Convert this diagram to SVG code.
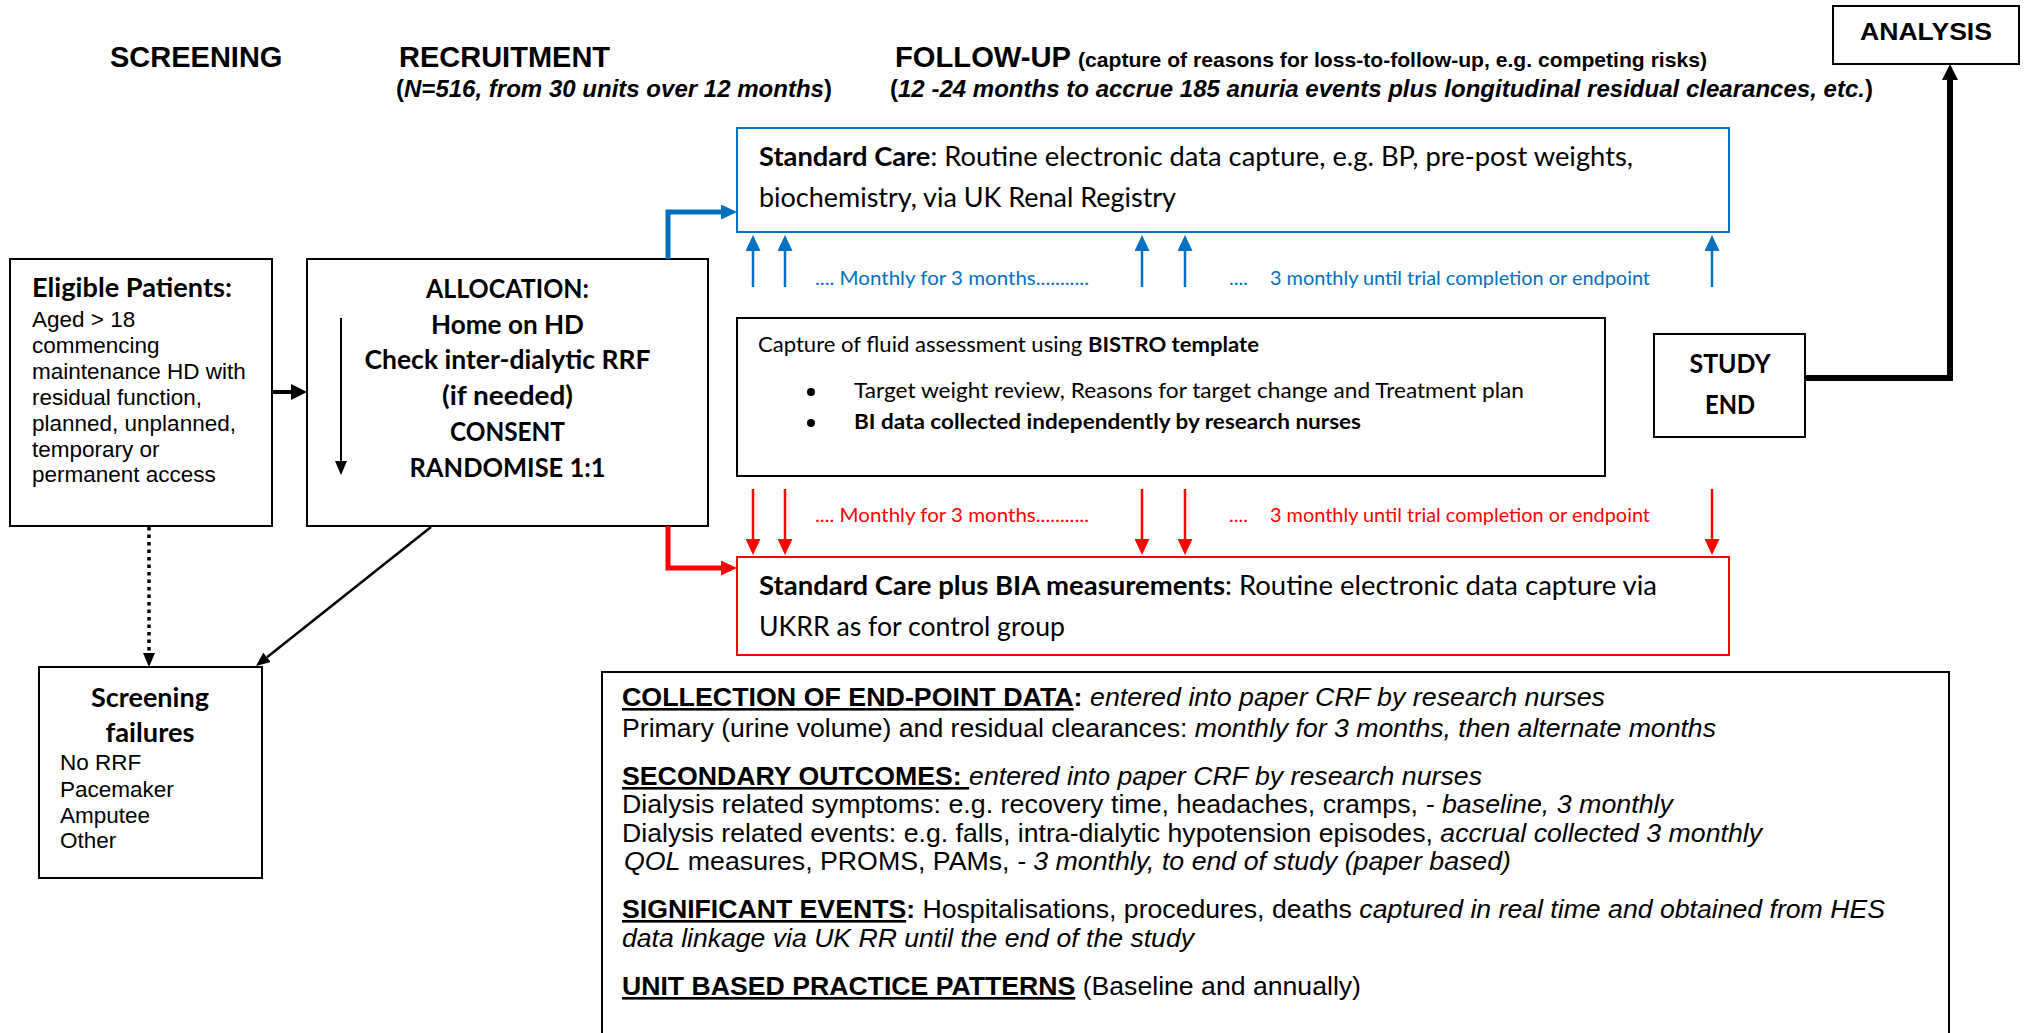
<svg xmlns="http://www.w3.org/2000/svg" width="2029" height="1033" viewBox="0 0 2029 1033">
<style>
.a{font-family:"Liberation Sans",Arial,sans-serif}
.c{font-family:Lato,"Liberation Sans",sans-serif}
.box{fill:#fff;stroke:#000;stroke-width:2}
.hd{font-size:29px;font-weight:bold}
.sub{font-size:24px;font-weight:bold}
.cb{font-size:26px;font-weight:bold}
.body{font-size:22.5px}
.bt{font-size:26px}
.b{font-weight:bold}
.i{font-style:italic}
.u{text-decoration:underline}
.mb{font-size:19px;fill:#0070C0}
.mr{font-size:19px;fill:#FF0000}
.thinb{stroke:#0070C0;stroke-width:2.5;fill:none}
.thinr{stroke:#FF0000;stroke-width:2.5;fill:none}
</style>
<defs>
<marker id="hk" viewBox="0 0 16 16" refX="0" refY="8" markerWidth="16" markerHeight="16" markerUnits="userSpaceOnUse" orient="auto"><path d="M0,0L16,8L0,16z" fill="#000"/></marker>
<marker id="hs" viewBox="0 0 14 12" refX="0" refY="6" markerWidth="14" markerHeight="12" markerUnits="userSpaceOnUse" orient="auto"><path d="M0,0L14,6L0,12z" fill="#000"/></marker>
<marker id="hb" viewBox="0 0 16 15" refX="0" refY="7.5" markerWidth="16" markerHeight="15" markerUnits="userSpaceOnUse" orient="auto"><path d="M0,0L16,7.5L0,15z" fill="#0070C0"/></marker>
<marker id="hr" viewBox="0 0 16 15" refX="0" refY="7.5" markerWidth="16" markerHeight="15" markerUnits="userSpaceOnUse" orient="auto"><path d="M0,0L16,7.5L0,15z" fill="#FF0000"/></marker>
</defs>
<rect width="2029" height="1033" fill="#fff"/>

<g id="headings" class="a">
<text x="110" y="67" class="hd">SCREENING</text>
<text x="399" y="67" class="hd">RECRUITMENT</text>
<text x="396" y="97" class="sub" textLength="436" lengthAdjust="spacingAndGlyphs">(<tspan class="i">N=516, from 30 units over 12 months</tspan>)</text>
<text x="895" y="67" class="hd" textLength="176" lengthAdjust="spacingAndGlyphs">FOLLOW-UP</text>
<text x="1078" y="67" font-size="21" font-weight="bold" textLength="629" lengthAdjust="spacingAndGlyphs">(capture of reasons for loss-to-follow-up, e.g. competing risks)</text>
<text x="890" y="97" class="sub" textLength="983" lengthAdjust="spacingAndGlyphs">(<tspan class="i">12 -24 months to accrue 185 anuria events plus longitudinal residual clearances, etc.</tspan>)</text>
</g>

<g id="analysis">
<rect class="box" x="1833" y="6" width="186" height="58"/>
<text x="1926" y="40" class="a" font-size="23" font-weight="bold" text-anchor="middle" textLength="132" lengthAdjust="spacingAndGlyphs">ANALYSIS</text>
</g>

<g id="eligible">
<rect class="box" x="10" y="259" width="262" height="267"/>
<text x="32" y="297" class="c cb" textLength="200" lengthAdjust="spacingAndGlyphs">Eligible Patients:</text>
<g class="a body">
<text x="32" y="327">Aged &gt; 18</text>
<text x="32" y="353">commencing</text>
<text x="32" y="379">maintenance HD with</text>
<text x="32" y="405">residual function,</text>
<text x="32" y="431">planned, unplanned,</text>
<text x="32" y="457">temporary or</text>
<text x="32" y="482">permanent access</text>
</g>
</g>

<g id="allocation">
<rect class="box" x="307" y="259" width="401" height="267"/>
<g class="c cb" text-anchor="middle">
<text x="507.5" y="298" textLength="163" lengthAdjust="spacingAndGlyphs">ALLOCATION:</text>
<text x="507.5" y="334" textLength="153" lengthAdjust="spacingAndGlyphs">Home on HD</text>
<text x="507.5" y="369" textLength="286" lengthAdjust="spacingAndGlyphs">Check inter-dialytic RRF</text>
<text x="507.5" y="405" textLength="131" lengthAdjust="spacingAndGlyphs">(if needed)</text>
<text x="507.5" y="441" textLength="115" lengthAdjust="spacingAndGlyphs">CONSENT</text>
<text x="507.5" y="477" textLength="196" lengthAdjust="spacingAndGlyphs">RANDOMISE 1:1</text>
</g>
<line x1="341" y1="318" x2="341" y2="461" stroke="#000" stroke-width="2" marker-end="url(#hs)"/>
</g>

<g id="screening-failures">
<rect class="box" x="39" y="667" width="223" height="211"/>
<text x="150" y="707" class="c cb" text-anchor="middle" textLength="118" lengthAdjust="spacingAndGlyphs">Screening</text>
<text x="150" y="742" class="c cb" text-anchor="middle" textLength="89" lengthAdjust="spacingAndGlyphs">failures</text>
<g class="a body">
<text x="60" y="770">No RRF</text>
<text x="60" y="797">Pacemaker</text>
<text x="60" y="823">Amputee</text>
<text x="60" y="848">Other</text>
</g>
</g>

<g id="standard-care">
<rect x="737" y="128" width="992" height="104" fill="#fff" stroke="#0070C0" stroke-width="2"/>
<text x="759" y="166" class="c" font-size="26" textLength="874" lengthAdjust="spacingAndGlyphs"><tspan class="b">Standard Care</tspan>: Routine electronic data capture, e.g. BP, pre-post weights,</text>
<text x="759" y="207" class="c" font-size="26" textLength="417" lengthAdjust="spacingAndGlyphs">biochemistry, via UK Renal Registry</text>
</g>

<g id="bistro">
<rect class="box" x="737" y="318" width="868" height="158"/>
<text x="758" y="352" class="c" font-size="21.5" textLength="501" lengthAdjust="spacingAndGlyphs">Capture of fluid assessment using <tspan class="b">BISTRO template</tspan></text>
<circle cx="811" cy="392" r="4" fill="#000"/>
<circle cx="811" cy="423" r="4" fill="#000"/>
<text x="854" y="398" class="c" font-size="21.5" textLength="670" lengthAdjust="spacingAndGlyphs">Target weight review, Reasons for target change and Treatment plan</text>
<text x="854" y="429" class="c b" font-size="21.5" textLength="507" lengthAdjust="spacingAndGlyphs">BI data collected independently by research nurses</text>
</g>

<g id="bia">
<rect x="737" y="557" width="992" height="98" fill="#fff" stroke="#FF0000" stroke-width="2"/>
<text x="759" y="595" class="c" font-size="26" textLength="898" lengthAdjust="spacingAndGlyphs"><tspan class="b">Standard Care plus BIA measurements</tspan>: Routine electronic data capture via</text>
<text x="759" y="636" class="c" font-size="26" textLength="306" lengthAdjust="spacingAndGlyphs">UKRR as for control group</text>
</g>

<g id="study-end">
<rect class="box" x="1654" y="334" width="151" height="103"/>
<text x="1730" y="373" class="c cb" text-anchor="middle" textLength="81" lengthAdjust="spacingAndGlyphs">STUDY</text>
<text x="1730" y="414" class="c cb" text-anchor="middle" textLength="50" lengthAdjust="spacingAndGlyphs">END</text>
</g>

<g id="schedule-labels" class="c">
<text x="815" y="285" class="mb" textLength="274" lengthAdjust="spacingAndGlyphs">.... Monthly for 3 months...........</text>
<text x="1229" y="285" class="mb" textLength="19" lengthAdjust="spacingAndGlyphs">....</text>
<text x="1270" y="285" class="mb" textLength="380" lengthAdjust="spacingAndGlyphs">3 monthly until trial completion or endpoint</text>
<text x="815" y="522" class="mr" textLength="274" lengthAdjust="spacingAndGlyphs">.... Monthly for 3 months...........</text>
<text x="1229" y="522" class="mr" textLength="19" lengthAdjust="spacingAndGlyphs">....</text>
<text x="1270" y="522" class="mr" textLength="380" lengthAdjust="spacingAndGlyphs">3 monthly until trial completion or endpoint</text>
</g>

<g id="endpoints">
<rect class="box" x="602" y="672" width="1347" height="380"/>
<g class="a bt">
<text x="622" y="706" textLength="983" lengthAdjust="spacingAndGlyphs"><tspan class="b u">COLLECTION OF END-POINT DATA</tspan><tspan class="b">:</tspan> <tspan class="i">entered into paper CRF by research nurses</tspan></text>
<text x="622" y="737" textLength="1094" lengthAdjust="spacingAndGlyphs">Primary (urine volume) and residual clearances: <tspan class="i">monthly for 3 months, then alternate months</tspan></text>
<text x="622" y="785" textLength="860" lengthAdjust="spacingAndGlyphs"><tspan class="b u">SECONDARY OUTCOMES: </tspan><tspan class="i">entered into paper CRF by research nurses</tspan></text>
<text x="622" y="813" textLength="1051" lengthAdjust="spacingAndGlyphs">Dialysis related symptoms:  e.g. recovery time, headaches, cramps, <tspan class="i">- baseline, 3 monthly</tspan></text>
<text x="622" y="842" textLength="1140" lengthAdjust="spacingAndGlyphs">Dialysis related events: e.g. falls, intra-dialytic hypotension episodes, <tspan class="i">accrual collected 3 monthly</tspan></text>
<text x="624" y="870" textLength="887" lengthAdjust="spacingAndGlyphs"><tspan class="i">QOL</tspan> measures, PROMS, PAMs, <tspan class="i">- 3 monthly, to end of study (paper based)</tspan></text>
<text x="622" y="918" textLength="1263" lengthAdjust="spacingAndGlyphs"><tspan class="b u">SIGNIFICANT EVENTS</tspan><tspan class="b">:</tspan> Hospitalisations, procedures, deaths <tspan class="i">captured in real time and obtained from HES</tspan></text>
<text x="622" y="947" class="i" textLength="572" lengthAdjust="spacingAndGlyphs">data linkage via UK RR until the end of the study</text>
<text x="622" y="995" textLength="739" lengthAdjust="spacingAndGlyphs"><tspan class="b u">UNIT BASED PRACTICE PATTERNS</tspan> (Baseline and annually)</text>
</g>
</g>

<g id="connectors">
<line x1="272" y1="392" x2="291" y2="392" stroke="#000" stroke-width="4" marker-end="url(#hk)"/>
<line x1="149" y1="527" x2="149" y2="653" stroke="#000" stroke-width="3.5" stroke-dasharray="3.5,4" marker-end="url(#hs)"/>
<line x1="431" y1="527" x2="267" y2="657.3" stroke="#000" stroke-width="2.5" marker-end="url(#hs)"/>
<path d="M668,259V212H721" fill="none" stroke="#0070C0" stroke-width="5" marker-end="url(#hb)"/>
<path d="M668,526V568H721" fill="none" stroke="#FF0000" stroke-width="5" marker-end="url(#hr)"/>
<path d="M1805,378H1950V80" fill="none" stroke="#000" stroke-width="6" marker-end="url(#hk)"/>
<line class="thinb" x1="753" y1="287" x2="753" y2="251" marker-end="url(#hb)"/>
<line class="thinb" x1="785" y1="287" x2="785" y2="251" marker-end="url(#hb)"/>
<line class="thinb" x1="1142" y1="287" x2="1142" y2="251" marker-end="url(#hb)"/>
<line class="thinb" x1="1185" y1="287" x2="1185" y2="251" marker-end="url(#hb)"/>
<line class="thinb" x1="1712" y1="287" x2="1712" y2="251" marker-end="url(#hb)"/>
<line class="thinr" x1="753" y1="489" x2="753" y2="539" marker-end="url(#hr)"/>
<line class="thinr" x1="785" y1="489" x2="785" y2="539" marker-end="url(#hr)"/>
<line class="thinr" x1="1142" y1="489" x2="1142" y2="539" marker-end="url(#hr)"/>
<line class="thinr" x1="1185" y1="489" x2="1185" y2="539" marker-end="url(#hr)"/>
<line class="thinr" x1="1712" y1="489" x2="1712" y2="539" marker-end="url(#hr)"/>
</g>
</svg>
